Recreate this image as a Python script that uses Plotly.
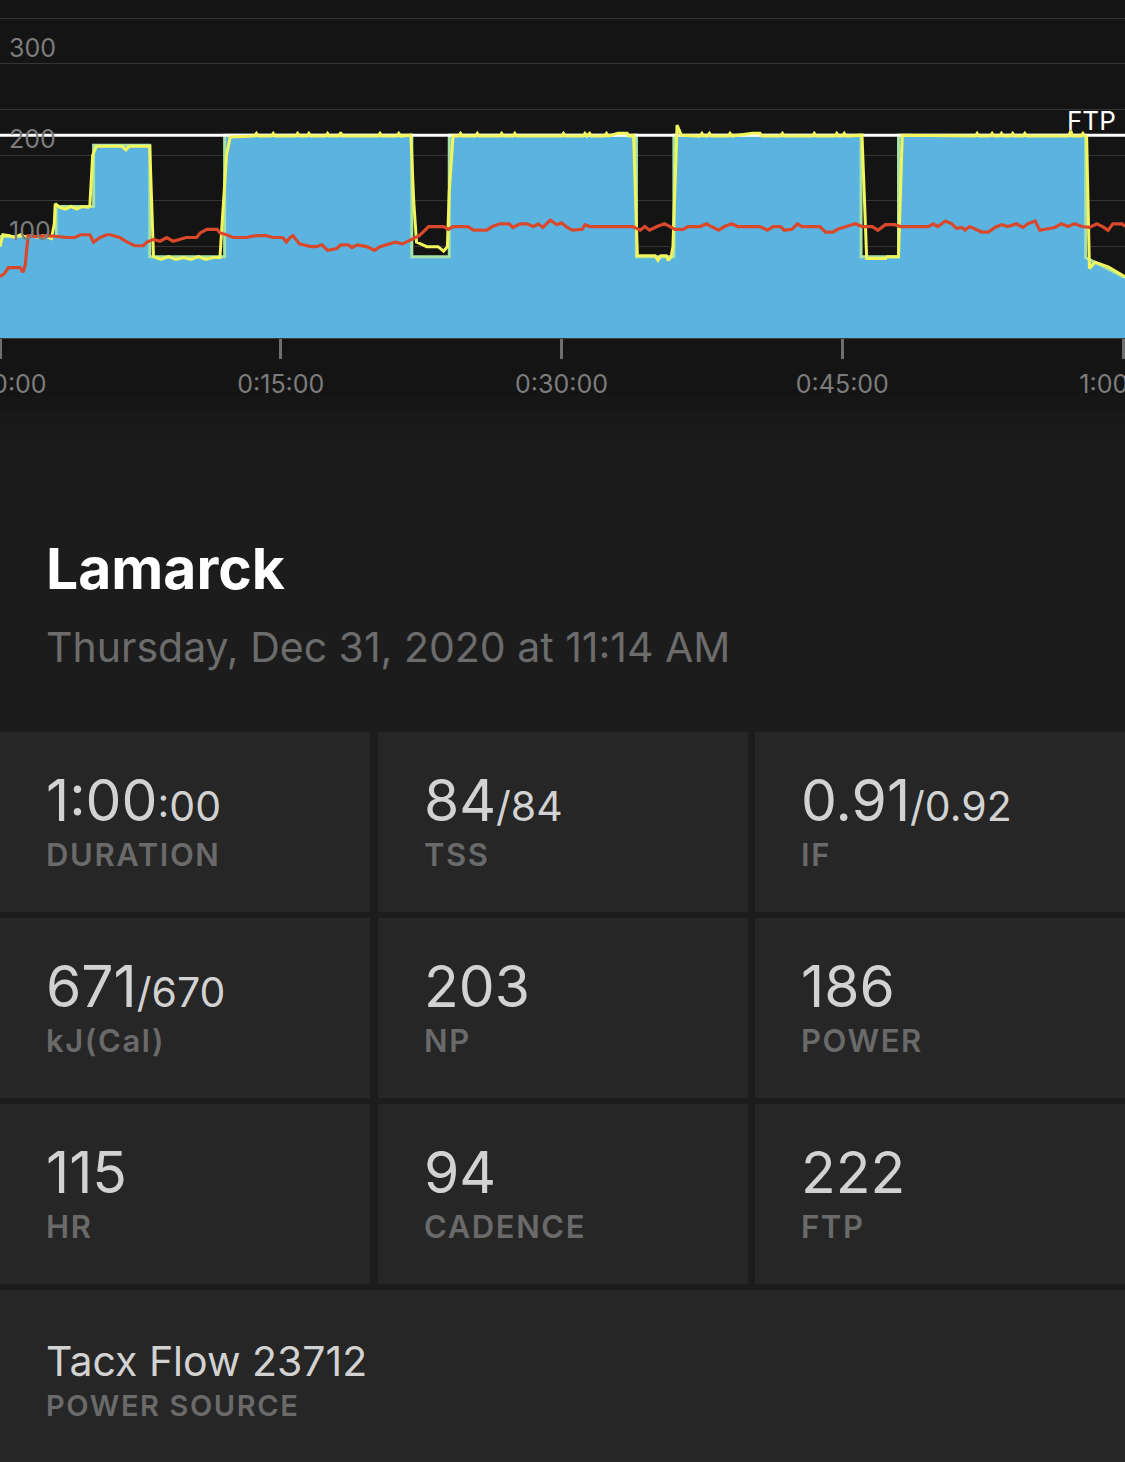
import plotly.graph_objects as go

W, H = 1125, 1462
FTP = 222

# workout target profile (minutes, watts)
target_min = [0, 3, 3, 5, 5, 8, 8, 12, 12, 22, 22, 24, 24, 34, 34, 36, 36, 46,
              46, 48, 48, 58, 58, 60.1]
target_w = [111, 111, 144, 144, 211, 211, 89, 89, 222, 222, 89, 89, 222, 222,
            89, 89, 222, 222, 89, 89, 222, 222, 88, 66]

# recorded power (minutes, watts)
power_min = [0, 0.15, 0.5, 0.8, 1.1, 1.4, 1.7, 2.0, 2.3, 2.6, 2.75, 2.9, 2.95,
             3.2, 3.5, 3.8, 4.1, 4.4, 4.7, 4.8, 4.95, 5.15, 6.5, 6.73, 6.9, 8.0,
             8.2, 8.6, 9.0, 9.4, 9.8, 10.2, 10.6, 11.0, 11.4, 11.75, 12.1, 12.3,
             13.6, 13.7, 13.8, 14.5, 14.6, 14.7, 15.8, 15.9, 16.0, 16.4, 16.5,
             16.6, 17.4, 17.5, 17.6, 18.1, 18.2, 18.3, 20.2, 20.3, 20.4, 21.2,
             21.3, 21.4, 21.95, 22.1, 22.25, 22.8, 23.4, 23.7, 23.9, 24.0, 24.2,
             24.5, 24.6, 24.7, 25.4, 25.5, 25.6, 26.7, 26.8, 26.9, 27.4, 27.5,
             27.6, 30.0, 30.1, 30.2, 31.15, 31.25, 31.35, 31.5, 31.6, 32.3, 32.4,
             32.5, 33.0, 33.5, 33.6, 33.85, 34.05, 35.0, 35.15, 35.3, 35.6, 35.7,
             35.85, 35.95, 36.17, 36.4, 37.4, 37.5, 37.6, 37.8, 37.9, 38.0, 38.9,
             39.0, 39.1, 40.2, 40.6, 40.7, 41.7, 41.8, 41.9, 43.4, 43.5, 43.6,
             44.6, 44.7, 44.8, 45.0, 45.1, 45.2, 46.05, 46.3, 47.3, 47.4, 48.0,
             48.2, 52.1, 52.2, 52.3, 52.9, 53.0, 53.1, 53.4, 53.5, 53.6, 54.0,
             54.1, 54.2, 54.65, 54.75, 54.85, 57.1, 57.2, 57.3, 57.75, 57.85,
             57.95, 58.05, 58.2, 58.5, 59.2, 60.1]
power_w = [100, 113, 112, 110, 113, 110, 112, 110, 112, 110, 109, 125, 147,
           143, 141, 144, 141, 144, 143, 145, 200, 210, 210, 206, 210, 210,
           89, 86, 89, 86, 88, 86, 89, 86, 88, 88, 200, 220,
           221, 224, 221, 221, 224, 221, 221, 224, 221, 221, 224,
           221, 221, 224, 221, 221, 225, 221, 221, 224, 221, 221,
           224, 221, 222, 150, 105, 100, 100, 95, 100, 160, 221,
           221, 224, 221, 221, 224, 221, 221, 224, 221, 221, 224,
           221, 221, 224, 221, 221, 224, 221, 224, 221, 221, 224,
           221, 224, 224, 221, 222, 90, 90, 85, 90, 90, 85,
           89, 100, 233, 222, 221, 224, 221, 221, 224, 221, 221,
           224, 221, 224, 224, 221, 221, 224, 221, 221, 224, 221,
           221, 224, 221, 221, 224, 221, 222, 87, 87, 89, 89,
           222, 221, 224, 221, 221, 224, 221, 221, 224, 221, 221,
           224, 221, 221, 224, 221, 221, 227, 221, 221, 224,
           221, 220, 76, 83, 78, 67]

# heart rate (minutes, bpm)
hr_min = [0.0, 0.25, 0.45, 1.07, 1.23, 1.35, 1.5, 2.0, 2.5, 3.0, 3.6, 4.0, 4.3,
          4.8, 5.0, 5.35, 5.7, 5.9, 6.4, 6.8, 7.2, 7.65, 7.85, 8.2, 8.55, 8.9,
          9.25, 9.95, 10.5, 10.7, 11.05, 11.6, 11.75, 12.1, 12.45, 13.2, 13.35,
          13.7, 14.2, 14.6, 15.1, 15.3, 15.5, 15.65, 16.0, 16.6, 16.9, 17.2,
          17.5, 18.0, 18.2, 18.6, 18.8, 19.1, 19.6, 20.0, 20.3, 20.8, 21.1, 21.5,
          21.7, 22.0, 22.4, 22.9, 23.7, 23.95, 24.2, 25.0, 25.3, 26.0, 26.3,
          26.7, 27.2, 27.4, 27.8, 28.15, 28.5, 28.75, 29.0, 29.4, 29.75, 30.0,
          30.3, 30.6, 31.1, 31.25, 31.5, 33.8, 34.2, 34.45, 34.7, 35.1, 35.5,
          35.8, 36.05, 36.5, 36.75, 37.4, 37.75, 38.0, 38.4, 38.7, 39.1, 39.4,
          40.6, 41.0, 41.3, 41.7, 41.9, 42.3, 42.6, 42.85, 43.8, 44.1, 44.5,
          44.75, 45.1, 45.7, 46.05, 46.6, 46.9, 47.3, 47.8, 48.1, 49.6, 49.85,
          50.1, 50.5, 50.85, 51.1, 51.4, 51.55, 51.8, 52.1, 52.45, 52.8, 53.15,
          53.5, 53.85, 54.3, 54.65, 54.9, 55.3, 55.55, 56.0, 56.35, 56.7, 57.05,
          57.4, 57.8, 58.2, 58.6, 58.9, 59.2, 59.45, 59.95, 60.1]
hr_bpm = [67, 71, 77, 77, 72, 80, 112, 111, 112, 111, 110, 110, 113,
          113, 105, 110, 113, 113, 110, 105, 101, 101, 105, 108, 106, 110,
          106, 110, 110, 115, 119, 119, 115, 113, 110, 110, 111,
          112, 112, 110, 110, 105, 110, 112, 103, 100, 100, 102,
          96, 98, 102, 102, 99, 102, 100, 96, 100, 103, 105, 103,
          105, 108, 112, 122, 122, 119, 122, 122, 118, 118, 122,
          125, 125, 121, 125, 125, 122, 125, 121, 129, 124, 126,
          121, 118, 119, 124, 122, 122, 118, 122, 118, 122, 125,
          122, 119, 119, 122, 122, 125, 122, 118, 122, 125, 122,
          122, 118, 122, 122, 118, 119, 125, 122, 122, 116, 116,
          119, 121, 125, 122, 122, 118, 124, 124, 122, 122, 125,
          122, 128, 125, 120, 121, 118, 122, 119, 116, 116, 121,
          124, 122, 125, 121, 125, 128, 118, 120, 121, 125, 122,
          125, 122, 121, 125, 122, 118, 125, 125, 122]

x_ticks = [0, 15, 30, 45, 60]
x_tick_text = ["0:00:00", "0:15:00", "0:30:00", "0:45:00", "1:00:00"]
y_labels = [100, 200, 300]

workout_name = "Lamarck"
workout_date = "Thursday, Dec 31, 2020 at 11:14 AM"
stat_main = ["1:00", "84", "0.91", "671", "203", "186", "115", "94", "222"]
stat_sub = [":00", "/84", "/0.92", "/670", "", "", "", "", ""]
stat_label = ["DURATION", "TSS", "IF", "kJ(Cal)", "NP", "POWER", "HR",
              "CADENCE", "FTP"]
source_name = "Tacx Flow 23712"
source_label = "POWER SOURCE"

FONT = "Inter"
chart_bottom = 338


def xp(p):
    return p / W


def yp(p):
    return 1 - p / H


def spaced(s):
    return "<span style='letter-spacing:1.6px'>%s</span>" % s


fig = go.Figure()
fig.add_trace(go.Scatter(x=target_min, y=target_w, mode="lines",
                         fill="tozeroy", fillcolor="#5bb4e0",
                         line=dict(color="#a6e1a8", width=3),
                         hoverinfo="skip"))
fig.add_trace(go.Scatter(x=[0, 60.1], y=[FTP, FTP], mode="lines",
                         line=dict(color="#ffffff", width=3),
                         hoverinfo="skip"))
fig.add_trace(go.Scatter(x=power_min, y=power_w, mode="lines",
                         line=dict(color="#f2f55b", width=3),
                         hoverinfo="skip"))
fig.add_trace(go.Scatter(x=hr_min, y=hr_bpm, mode="lines",
                         line=dict(color="#d9482b", width=3.2),
                         hoverinfo="skip"))

shapes = []
# dark strip under the chart, fading into the page colour
for y0, y1, c in [(0, 395, "#141414"), (395, 410, "#161616"),
                  (410, 425, "#181818"), (425, 440, "#1a1a1a")]:
    shapes.append(dict(type="rect", xref="paper", yref="paper", layer="below",
                       x0=0, x1=1, y0=yp(y1), y1=yp(y0),
                       fillcolor=c, line=dict(width=0)))

cols = [(0, 370), (378, 748), (755, 1125)]
rows = [(732, 912), (918, 1098), (1104, 1284)]
for r0, r1 in rows:
    for c0, c1 in cols:
        shapes.append(dict(type="rect", xref="paper", yref="paper",
                           layer="below", x0=xp(c0), x1=xp(c1),
                           y0=yp(r1), y1=yp(r0),
                           fillcolor="#262626", line=dict(width=0)))
shapes.append(dict(type="rect", xref="paper", yref="paper", layer="below",
                   x0=0, x1=1, y0=0, y1=yp(1290),
                   fillcolor="#262626", line=dict(width=0)))

ann = []
for v in y_labels:
    ann.append(dict(x=xp(7), xref="paper", y=v, yref="y", text=str(v),
                    showarrow=False, xanchor="left", yanchor="middle",
                    yshift=16, font=dict(family=FONT, size=25,
                                         color="#7c7c7c")))
ann.append(dict(x=xp(1118), xref="paper", y=FTP, yref="y", text="FTP",
                showarrow=False, xanchor="right", yanchor="middle",
                yshift=15, font=dict(family=FONT, size=26, color="#ffffff")))

ann.append(dict(x=xp(44), y=yp(568), xref="paper", yref="paper",
                text="<b>%s</b>" % workout_name, showarrow=False,
                xanchor="left", yanchor="middle",
                font=dict(family=FONT, size=57, color="#ffffff")))
ann.append(dict(x=xp(44), y=yp(647), xref="paper", yref="paper",
                text=workout_date, showarrow=False,
                xanchor="left", yanchor="middle",
                font=dict(family=FONT, size=41, color="#6c6c6c")))

for i in range(9):
    r, c = divmod(i, 3)
    left = cols[c][0] + 44
    txt = stat_main[i]
    if stat_sub[i]:
        txt += "<span style='font-size:41px'>%s</span>" % stat_sub[i]
    ann.append(dict(x=xp(left), y=yp(800 + 186 * r), xref="paper",
                    yref="paper", text=txt, showarrow=False,
                    xanchor="left", yanchor="middle",
                    font=dict(family=FONT, size=57, color="#d2d2d2")))
    ann.append(dict(x=xp(left), y=yp(854 + 186 * r), xref="paper",
                    yref="paper", text=spaced(stat_label[i]), showarrow=False,
                    xanchor="left", yanchor="middle",
                    font=dict(family=FONT, size=31, weight=600,
                              color="#6a6a6a")))

ann.append(dict(x=xp(44), y=yp(1361), xref="paper", yref="paper",
                text=source_name, showarrow=False,
                xanchor="left", yanchor="middle",
                font=dict(family=FONT, size=41, color="#d2d2d2")))
ann.append(dict(x=xp(44), y=yp(1405), xref="paper", yref="paper",
                text=spaced(source_label), showarrow=False,
                xanchor="left", yanchor="middle",
                font=dict(family=FONT, size=29, weight=600,
                          color="#6a6a6a")))

fig.update_layout(
    width=W, height=H,
    margin=dict(l=0, r=0, t=0, b=0, autoexpand=False),
    paper_bgcolor="#1c1c1c",
    plot_bgcolor="#141414",
    showlegend=False,
    shapes=shapes,
    annotations=ann,
    xaxis=dict(range=[0, 60.1], domain=[0, 1], tickvals=x_ticks,
               ticktext=x_tick_text, ticks="outside", ticklen=20,
               tickwidth=3, tickcolor="#6e6e6e", showgrid=False,
               zeroline=False, showline=True, linecolor="#3c3c3c",
               linewidth=1, ticklabelstandoff=4, ticklabeloverflow="allow",
               automargin=False,
               tickfont=dict(family=FONT, size=25, color="#7c7c7c"),
               fixedrange=True),
    yaxis=dict(range=[0, 370], domain=[yp(chart_bottom), 1], dtick=50,
               showticklabels=False, showgrid=True, gridcolor="#353535",
               gridwidth=1, zeroline=False, fixedrange=True, automargin=False),
)

fig.write_html("out.html", config={"displayModeBar": False},
               post_script="document.body.style.margin='0';")
